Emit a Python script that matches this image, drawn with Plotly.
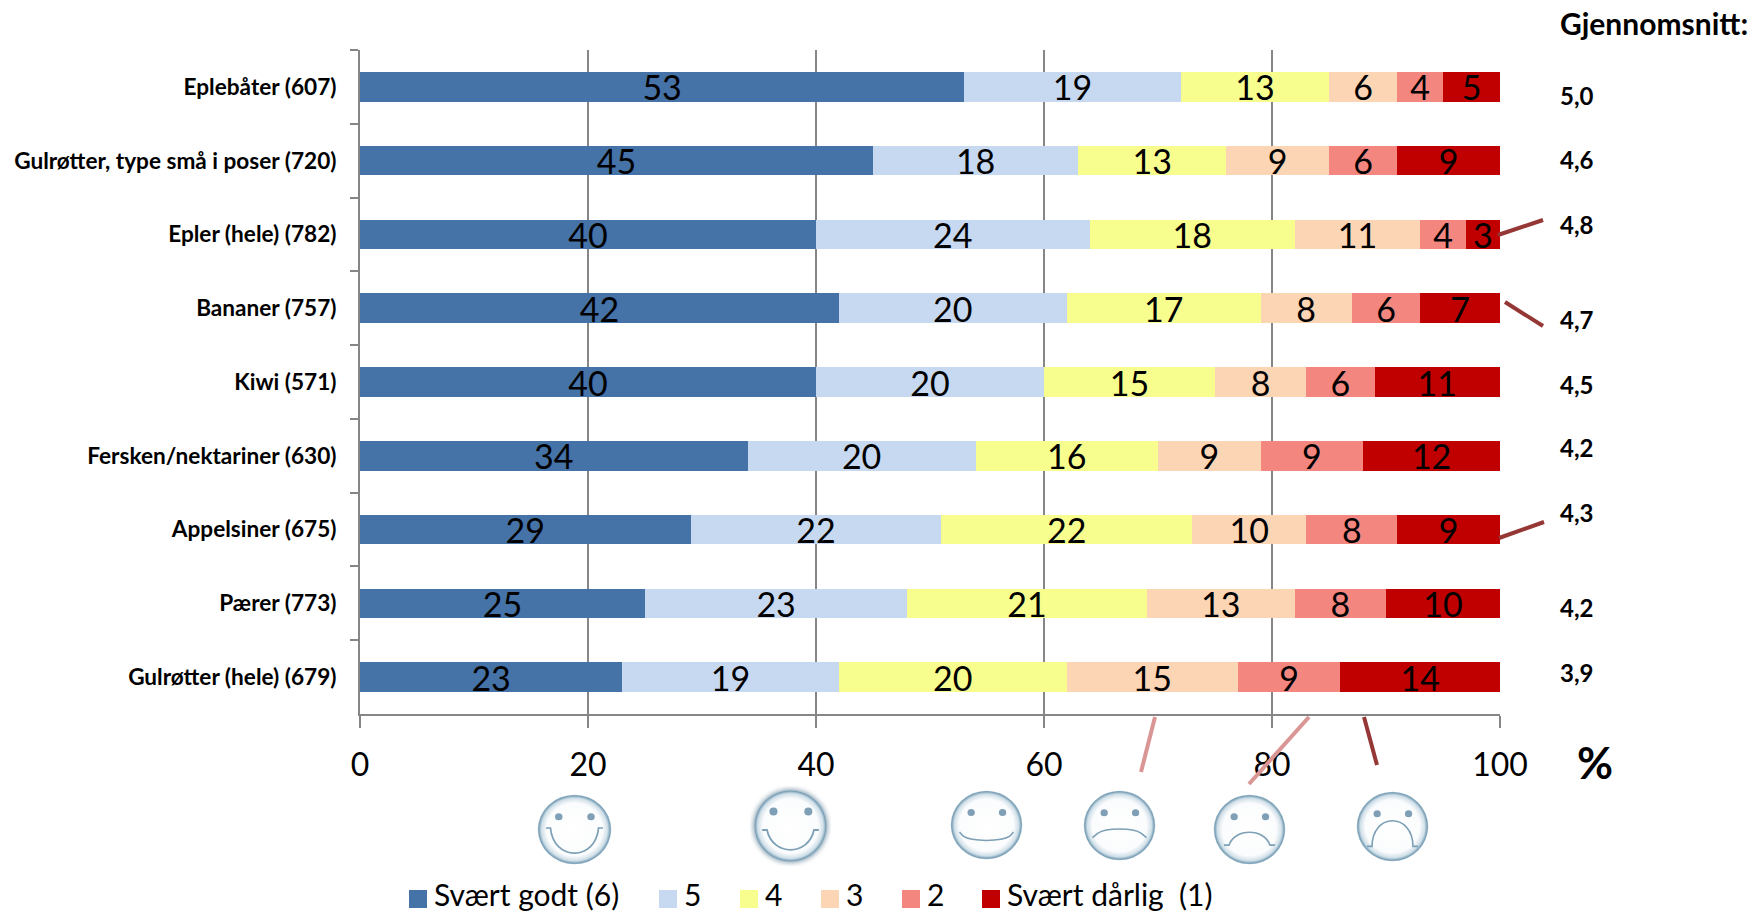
import base64
import plotly.graph_objects as go

categories = ["Eplebåter (607)", "Gulrøtter, type små i poser (720)", "Epler (hele) (782)",
              "Bananer (757)", "Kiwi (571)", "Fersken/nektariner (630)", "Appelsiner (675)",
              "Pærer (773)", "Gulrøtter (hele) (679)"]
series_names = ["Svært godt (6)", "5", "4", "3", "2", "Svært dårlig  (1)"]
godt6 = [53, 45, 40, 42, 40, 34, 29, 25, 23]
val5 = [19, 18, 24, 20, 20, 20, 22, 23, 19]
val4 = [13, 13, 18, 17, 15, 16, 22, 21, 20]
val3 = [6, 9, 11, 8, 8, 9, 10, 13, 15]
val2 = [4, 6, 4, 6, 6, 9, 8, 8, 9]
darlig1 = [5, 9, 3, 7, 11, 12, 9, 10, 14]
averages = ["5,0", "4,6", "4,8", "4,7", "4,5", "4,2", "4,3", "4,2", "3,9"]
x_ticks = [0, 20, 40, 60, 80, 100]

colors = ["#4572A7", "#C6D9F1", "#F7FE8E", "#FCD5B5", "#F38780", "#C00000"]
FONT = "Lato"
W, H = 1754, 912
L, R, T, B = 360, 1500, 50, 714


def px(x):
    return (x - L) / (R - L)


def py(y):
    return (B - y) / (B - T)


fig = go.Figure()
for name, vals, col in zip(series_names, [godt6, val5, val4, val3, val2, darlig1], colors):
    fig.add_bar(y=categories, x=vals, name=name, orientation="h", marker=dict(color=col, line_width=0),
                text=[str(v) for v in vals], textposition="inside", insidetextanchor="middle",
                textangle=0, constraintext="none", cliponaxis=False, showlegend=False,
                insidetextfont=dict(family=FONT, size=34, color="black"), hoverinfo="x+y+name")

avg_y = [96, 160, 224, 320, 384, 447, 512, 607, 672]
ann = [dict(text=a, x=px(1558), y=py(yy), xref="paper", yref="paper", xanchor="left", yanchor="middle",
            showarrow=False, font=dict(family=FONT, size=24, color="black", weight="bold"))
       for a, yy in zip(averages, avg_y)]
ann.append(dict(text="Gjennomsnitt:", x=px(1558), y=py(23), xref="paper", yref="paper", xanchor="left",
                yanchor="middle", showarrow=False, font=dict(family=FONT, size=30, color="black", weight="bold")))
ann.append(dict(text="%", x=px(1595), y=py(762), xref="paper", yref="paper", xanchor="center",
                yanchor="middle", showarrow=False, font=dict(family=FONT, size=44, color="black", weight="bold")))

DARK, LIGHT = "#953735", "#D99694"
conn = [(1498, 235, 1543, 220, DARK), (1505, 302, 1543, 326, DARK), (1499, 538, 1544, 522, DARK),
        (1155, 717, 1141, 772, LIGHT), (1309, 717, 1249, 784, LIGHT), (1364, 717, 1377, 765, DARK)]
shapes = [dict(type="line", xref="paper", yref="paper", x0=px(a), y0=py(b), x1=px(c), y1=py(d),
               line=dict(color=col, width=4)) for a, b, c, d, col in conn]

legend_x = [409, 659, 740, 821, 902, 982]
for lx, name, col in zip(legend_x, series_names, colors):
    shapes.append(dict(type="rect", xref="paper", yref="paper", x0=px(lx), x1=px(lx + 18), y0=py(890), y1=py(908),
                       fillcolor=col, line_width=0))
    ann.append(dict(text=name.replace("  ", "\u00a0\u00a0"), x=px(lx + 23), y=py(894), xref="paper", yref="paper",
                    xanchor="left", yanchor="middle", showarrow=False,
                    font=dict(family=FONT, size=30, color="black")))


def face(mouth, glow=False):
    shadow = ('<filter id="b" x="-20%" y="-20%" width="140%" height="140%"><feGaussianBlur stdDeviation="3"/></filter>'
              '<ellipse cx="50" cy="50" rx="46" ry="46" fill="#5f7f95" opacity="0.75" filter="url(#b)"/>') if glow else ""
    r = 45 if glow else 49
    svg = f'''<svg xmlns="http://www.w3.org/2000/svg" width="100" height="100" viewBox="0 0 100 100">
<defs><radialGradient id="g" cx="50%" cy="50%" r="50%"><stop offset="0%" stop-color="#ffffff"/>
<stop offset="76%" stop-color="#fbfcfd"/><stop offset="90%" stop-color="#cfdfe8"/>
<stop offset="97%" stop-color="#7a9fb6"/><stop offset="100%" stop-color="#a9c2d1"/></radialGradient></defs>
{shadow}<ellipse cx="50" cy="50" rx="{r}" ry="{r}" fill="url(#g)"/>
<ellipse cx="29" cy="32" rx="5" ry="5" fill="#7f9fb6"/><ellipse cx="72" cy="32" rx="5" ry="5" fill="#7f9fb6"/>
<path d="{mouth}" fill="none" stroke="#7da0b6" stroke-width="2.2"/></svg>'''
    return "data:image/svg+xml;base64," + base64.b64encode(svg.encode()).decode()


faces = [(537, 794, 75, 71, "M12 48 H18 C22 95 78 95 82 48 H88", False),
         (750, 786, 81, 80, "M15 55 H21 C28 88 72 88 79 55 H85", True),
         (950, 790, 73, 70, "M13 60 L18 66 C30 74 70 74 82 66 L87 60", False),
         (1083, 790, 73, 71, "M13 67 L20 61 C32 53 68 53 80 61 L87 67", False),
         (1213, 794, 73, 71, "M15 72 L22 72 C30 48 70 48 78 72 L85 72", False),
         (1356, 791, 73, 71, "M15 78 H22 C22 30 78 30 78 78 H85", False)]
images = [dict(source=face(m, g), xref="paper", yref="paper", x=px(x), y=py(y), sizex=w / (R - L), sizey=h / (B - T),
               xanchor="left", yanchor="top", sizing="stretch", layer="above")
          for x, y, w, h, m, g in faces]

fig.update_layout(
    barmode="stack", bargap=0.6, width=W, height=H, paper_bgcolor="white", plot_bgcolor="white",
    margin=dict(l=L, r=W - R, t=T, b=H - B, pad=0), font=dict(family=FONT, color="black"),
    annotations=ann, shapes=shapes, images=images, showlegend=False,
)
fig.update_xaxes(range=[0, 100], tickmode="array", tickvals=x_ticks, ticktext=[str(v) for v in x_ticks],
                 showgrid=True, gridcolor="#868686", gridwidth=1.5, zeroline=False, showline=True,
                 linecolor="#868686", linewidth=2, ticks="outside", ticklen=12, tickcolor="#868686", tickwidth=1.5,
                 tickfont=dict(family=FONT, size=32, color="black"), ticklabelstandoff=10)
fig.update_yaxes(categoryorder="array", categoryarray=categories, autorange="reversed", showgrid=False,
                 showline=True, linecolor="#868686", linewidth=2, ticks="outside", ticklen=8, tickcolor="#868686",
                 tickwidth=1.5, tickson="boundaries",
                 tickfont=dict(family=FONT, size=22.6, color="black", weight="bold"), ticklabelstandoff=17)
fig.write_html("out.html", config={"displayModeBar": False},
               post_script="document.body.style.margin='0';document.body.style.overflow='hidden';")
